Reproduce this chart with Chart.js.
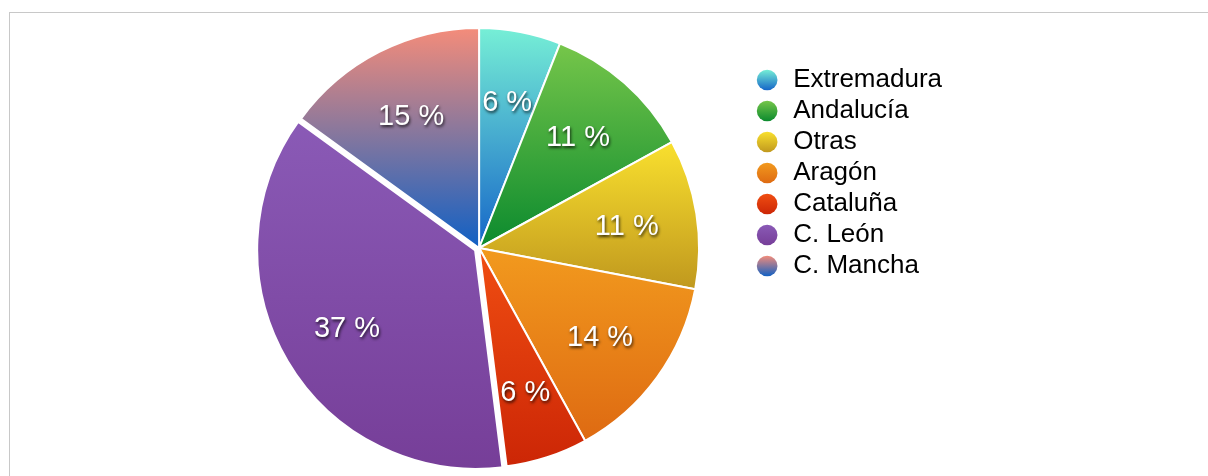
<!DOCTYPE html>
<html>
<head>
<meta charset="utf-8">
<script src="https://cdn.jsdelivr.net/npm/chart.js@4"></script>
<style>
  html, body { margin: 0; padding: 0; background: #fff; overflow: hidden; }
  #wrap { position: relative; width: 1208px; height: 476px; }
  #frame { position: absolute; left: 9px; top: 12px; width: 1300px; height: 600px; border: 1px solid #c8c8c8; }
  #chart { position: absolute; left: 0; top: 0; }
</style>
</head>
<body>
<div id="wrap">
  <div id="frame"></div>
  <canvas id="chart" width="1208" height="476"></canvas>
</div>
<script>
// Regions and their share (%)
const regions = ['Extremadura', 'Andalucía', 'Otras', 'Aragón', 'Cataluña', 'C. León', 'C. Mancha'];
const shares = [6, 11, 11, 14, 6, 37, 15];

// Gradient colours per slice: top, bottom
const topColours = ['#76efd6', '#76c64a', '#f9e02e', '#f29a1e', '#f04e12', '#8a5ab6', '#f48c7a'];
const bottomColours = ['#1565c8', '#0b8a2e', '#c0981e', '#de6a12', '#cc2606', '#763e98', '#1060c4'];

// Exploded slice (C. León) - Chart.js v4 moves the arc by roughly offset/4
const sliceOffsets = [0, 0, 0, 0, 0, 12, 0];
// Wider white edge round the exploded slice
const borderWidths = [2, 2, 2, 2, 2, 5, 2];

const pieRadius = 220;
const legendFontSize = 26;
const legendBoxHeight = 14.6;

Chart.defaults.font.family = '"Liberation Sans", Arial, Helvetica, sans-serif';

// Same shift as ArcElement.draw applies for the offset option
function arcShift(offset, circumference) {
  const o = (offset || 0) / 4;
  return o + o * (1 - Math.sin(Math.min(Math.PI, circumference)));
}

// Vertical gradient spanning the slice's own height
function sliceGradient(context) {
  const chart = context.chart;
  const area = chart.chartArea;
  const i = context.dataIndex;
  if (!area) {
    return bottomColours[i];
  }
  const total = shares.reduce((a, b) => a + b, 0);
  const before = shares.slice(0, i).reduce((a, b) => a + b, 0);
  const a0 = -Math.PI / 2 + before / total * Math.PI * 2;
  const a1 = a0 + shares[i] / total * Math.PI * 2;
  const mid = (a0 + a1) / 2;
  const cy = (area.top + area.bottom) / 2 + Math.sin(mid) * arcShift(sliceOffsets[i], a1 - a0);
  const ys = [cy, cy + Math.sin(a0) * pieRadius, cy + Math.sin(a1) * pieRadius];
  [Math.PI / 2, Math.PI * 1.5, -Math.PI / 2].forEach(a => {
    if (a >= a0 && a <= a1) {
      ys.push(cy + Math.sin(a) * pieRadius);
    }
  });
  const g = chart.ctx.createLinearGradient(0, Math.min(...ys), 0, Math.max(...ys));
  g.addColorStop(0, topColours[i]);
  g.addColorStop(1, bottomColours[i]);
  return g;
}

// Gradient fill for the legend circles
const legendGradients = {
  id: 'legendGradients',
  beforeDraw(chart) {
    const legend = chart.legend;
    if (!legend || !legend.legendHitBoxes) return;
    const r = legendBoxHeight * Math.SQRT2 / 2;
    legend.legendHitBoxes.forEach((box, i) => {
      const cy = box.top + legendFontSize / 2;
      const g = chart.ctx.createLinearGradient(0, cy - r, 0, cy + r);
      g.addColorStop(0, topColours[i]);
      g.addColorStop(1, bottomColours[i]);
      legend.legendItems[i].fillStyle = g;
    });
  }
};

// Percentage labels inside the slices
const sliceLabels = {
  id: 'sliceLabels',
  afterDatasetsDraw(chart) {
    const ctx = chart.ctx;
    const meta = chart.getDatasetMeta(0);
    const fontSize = 29;
    meta.data.forEach((arc, i) => {
      const p = arc.getProps(['x', 'y', 'startAngle', 'endAngle', 'outerRadius', 'circumference'], true);
      const mid = (p.startAngle + p.endAngle) / 2;
      const r = p.outerRadius * 0.68 + arcShift(sliceOffsets[i], p.circumference);
      ctx.save();
      ctx.font = fontSize + 'px "Liberation Sans", Arial, sans-serif';
      ctx.fillStyle = '#ffffff';
      ctx.textAlign = 'center';
      ctx.textBaseline = 'alphabetic';
      ctx.shadowColor = 'rgba(0, 0, 0, 0.75)';
      ctx.shadowBlur = 3;
      ctx.shadowOffsetX = 1;
      ctx.shadowOffsetY = 2;
      ctx.fillText(shares[i] + ' %', p.x + Math.cos(mid) * r, p.y + Math.sin(mid) * r + fontSize * 0.36);
      ctx.restore();
    });
  }
};

new Chart(document.getElementById('chart').getContext('2d'), {
  type: 'pie',
  data: {
    labels: regions,
    datasets: [{
      data: shares,
      backgroundColor: sliceGradient,
      borderColor: '#ffffff',
      borderWidth: borderWidths,
      offset: sliceOffsets,
      hoverOffset: 0,
      clip: false
    }]
  },
  options: {
    responsive: false,
    animation: false,
    radius: pieRadius,
    layout: {
      padding: {left: 209, right: 256, top: 62, bottom: 42}
    },
    plugins: {
      tooltip: {enabled: false},
      legend: {
        position: 'right',
        align: 'start',
        labels: {
          usePointStyle: true,
          pointStyle: 'circle',
          boxHeight: legendBoxHeight,
          padding: 5,
          color: '#000000',
          font: {size: legendFontSize},
          generateLabels(chart) {
            return regions.map((name, i) => ({
              text: name,
              fillStyle: bottomColours[i],
              strokeStyle: 'rgba(0,0,0,0)',
              lineWidth: 0,
              pointStyle: 'circle',
              hidden: false,
              index: i
            }));
          }
        }
      }
    }
  },
  plugins: [legendGradients, sliceLabels]
});
</script>
</body>
</html>
